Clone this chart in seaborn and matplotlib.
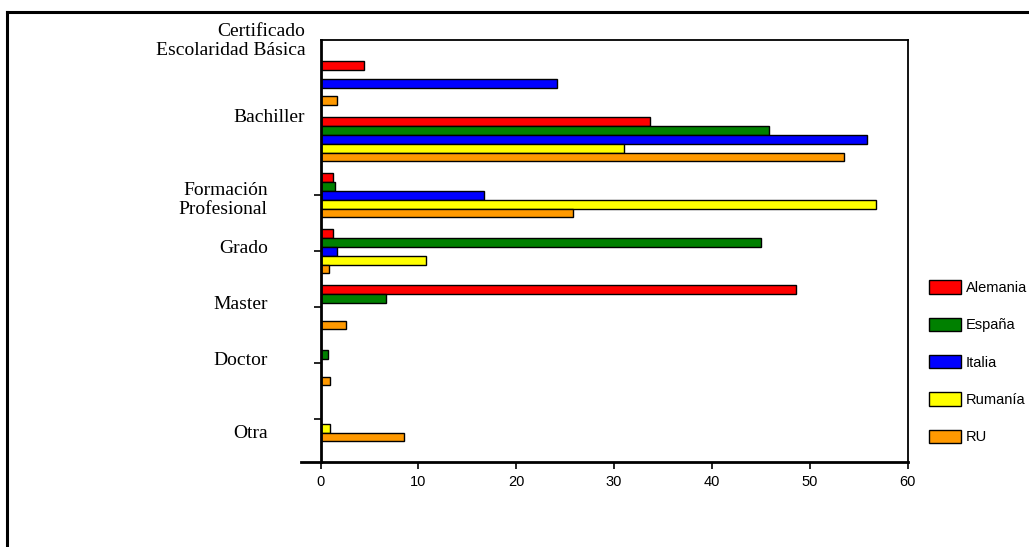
import numpy as np
import pandas as pd
import matplotlib
matplotlib.use("Agg")
import matplotlib.pyplot as plt
import seaborn as sns
from matplotlib.lines import Line2D

# =====================================================
# DATA
# =====================================================

niveles = [
    "Certificado\nEscolaridad Básica",
    "Bachiller",
    "Formación\nProfesional",
    "Grado",
    "Master",
    "Doctor",
    "Otra",
]

paises = ["Alemania", "España", "Italia", "Rumanía", "RU"]

alemania = [4.4, 33.7, 1.3, 1.3, 48.6, None, None]
espana = [None, 45.8, 1.5, 45.0, 6.7, 0.8, None]
italia = [24.2, 55.9, 16.7, 1.7, None, None, None]
rumania = [None, 31.0, 56.8, 10.8, None, None, 1.0]
ru = [1.65, 53.5, 25.8, 0.9, 2.6, 0.97, 8.5]

colores = ["#FF0000", "#008000", "#0000FF", "#FFFF00", "#FF9900"]

# layout of the category labels (offset in category units, right edge in axes fraction)
label_dy = [-0.75, -0.39, 0.09, -0.05, -0.05, -0.04, 0.25]
label_x = [-0.026, -0.026, -0.09, -0.09, -0.09, -0.09, -0.09]

# =====================================================
# LONG FORMAT
# =====================================================

rows = []
for pais, vals in zip(paises, [alemania, espana, italia, rumania, ru]):
    for nivel, v in zip(niveles, vals):
        if v is not None:
            rows.append({"nivel": nivel, "pct": v, "pais": pais})

df = pd.DataFrame(rows)

# =====================================================
# PLOT
# =====================================================

fig = plt.figure(figsize=(10.29, 5.47), dpi=100)
ax = fig.add_axes([0.3115, 0.155, 0.5705, 0.772])

sns.barplot(
    data=df,
    x="pct",
    y="nivel",
    hue="pais",
    order=niveles,
    hue_order=paises,
    palette=colores,
    orient="h",
    width=0.8,
    errorbar=None,
    edgecolor="black",
    linewidth=1.0,
    saturation=1,
    ax=ax,
)

ax.set_xlim(0, 60)
ax.set_ylim(6.77, -0.77)
ax.set_xticks([0, 10, 20, 30, 40, 50, 60])
ax.set_xlabel("")
ax.set_ylabel("")
# the original only shows tick marks from the third category down
ax.set_yticks(range(2, len(niveles)))
ax.set_yticklabels([])

for tick in ax.get_xticklabels():
    tick.set_fontfamily("Liberation Sans")
    tick.set_fontsize(10.5)

ax.tick_params(axis="x", length=5, width=1.2, pad=4, direction="out")
ax.tick_params(axis="y", length=5, width=1.2, direction="out")

for side in ["left", "bottom"]:
    ax.spines[side].set_linewidth(2)
for side in ["top", "right"]:
    ax.spines[side].set_linewidth(1.3)
ax.spines["bottom"].set_bounds(-2, 60)

# category labels
trans = ax.get_yaxis_transform()
for i, nombre in enumerate(niveles):
    ax.text(
        label_x[i],
        i + label_dy[i],
        nombre,
        transform=trans,
        ha="right",
        va="center",
        fontsize=14,
        family="Liberation Serif",
        linespacing=1.2,
    )

# legend
sns.move_legend(
    ax,
    loc="upper left",
    bbox_to_anchor=(0.896, 0.501),
    bbox_transform=fig.transFigure,
    title=None,
    frameon=False,
    borderpad=0,
    handlelength=2.2,
    handleheight=1.05,
    labelspacing=1.55,
    handletextpad=0.3,
    prop={"family": "Liberation Sans", "size": 10.5},
)
for h in ax.get_legend().legend_handles:
    h.set_edgecolor("black")
    h.set_linewidth(1.0)

# outer border
fig.add_artist(Line2D([0.0068, 0.0068], [0.978, 0.0], transform=fig.transFigure,
                      color="black", linewidth=2.2))
fig.add_artist(Line2D([0.0068, 1.0], [0.978, 0.978], transform=fig.transFigure,
                      color="black", linewidth=2.2))

fig.savefig("out.png", dpi=100)
